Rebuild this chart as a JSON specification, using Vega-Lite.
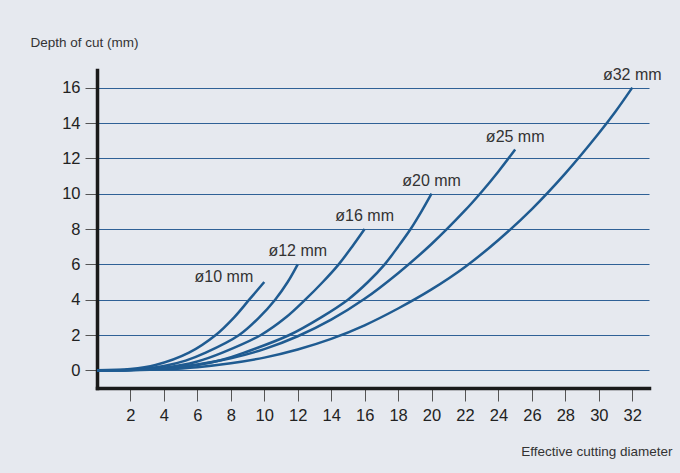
{
  "$schema": "https://vega.github.io/schema/vega-lite/v6.json",
  "width": 552,
  "height": 318,
  "autosize": {"type": "none"},
  "padding": {"left": 97, "top": 70, "right": 31, "bottom": 85},
  "background": "#e6e9ef",
  "config": {
    "font": "Liberation Sans",
    "view": {"stroke": null}
  },
  "datasets": {
    "curves": [
      {"d": "10", "x": 0, "y": 0}, {"d": "10", "x": 2, "y": 0.07}, {"d": "10", "x": 3.5, "y": 0.3}, {"d": "10", "x": 5.5, "y": 1}, {"d": "10", "x": 7.1, "y": 2}, {"d": "10", "x": 8.2, "y": 3}, {"d": "10", "x": 9.1, "y": 4}, {"d": "10", "x": 10, "y": 5},
      {"d": "12", "x": 0, "y": 0}, {"d": "12", "x": 2, "y": 0.03}, {"d": "12", "x": 4, "y": 0.25}, {"d": "12", "x": 5.3, "y": 0.55}, {"d": "12", "x": 6.5, "y": 1}, {"d": "12", "x": 8.5, "y": 2}, {"d": "12", "x": 9.7, "y": 3}, {"d": "12", "x": 10.65, "y": 4}, {"d": "12", "x": 11.4, "y": 5}, {"d": "12", "x": 12, "y": 6},
      {"d": "16", "x": 0, "y": 0}, {"d": "16", "x": 2, "y": 0.02}, {"d": "16", "x": 4, "y": 0.14}, {"d": "16", "x": 6, "y": 0.5}, {"d": "16", "x": 7.5, "y": 1}, {"d": "16", "x": 9.8, "y": 2}, {"d": "16", "x": 11.3, "y": 3}, {"d": "16", "x": 12.45, "y": 4}, {"d": "16", "x": 13.5, "y": 5}, {"d": "16", "x": 14.45, "y": 6}, {"d": "16", "x": 15.25, "y": 7}, {"d": "16", "x": 16, "y": 8},
      {"d": "20", "x": 0, "y": 0}, {"d": "20", "x": 2, "y": 0.02}, {"d": "20", "x": 4, "y": 0.1}, {"d": "20", "x": 6, "y": 0.3}, {"d": "20", "x": 7.5, "y": 0.6}, {"d": "20", "x": 8.8, "y": 1}, {"d": "20", "x": 11.5, "y": 2}, {"d": "20", "x": 13.4, "y": 3}, {"d": "20", "x": 15, "y": 4}, {"d": "20", "x": 16.2, "y": 5}, {"d": "20", "x": 17.2, "y": 6}, {"d": "20", "x": 18, "y": 7}, {"d": "20", "x": 18.75, "y": 8}, {"d": "20", "x": 19.4, "y": 9}, {"d": "20", "x": 20, "y": 10},
      {"d": "25", "x": 0, "y": 0}, {"d": "25", "x": 2, "y": 0.02}, {"d": "25", "x": 4, "y": 0.12}, {"d": "25", "x": 6, "y": 0.33}, {"d": "25", "x": 8, "y": 0.68}, {"d": "25", "x": 10, "y": 1.2}, {"d": "25", "x": 12, "y": 1.93}, {"d": "25", "x": 14, "y": 2.87}, {"d": "25", "x": 16, "y": 4.05}, {"d": "25", "x": 18, "y": 5.5}, {"d": "25", "x": 20, "y": 7.15}, {"d": "25", "x": 22, "y": 9.05}, {"d": "25", "x": 23, "y": 10.11}, {"d": "25", "x": 24, "y": 11.26}, {"d": "25", "x": 25, "y": 12.5},
      {"d": "32", "x": 0, "y": 0}, {"d": "32", "x": 2, "y": 0.01}, {"d": "32", "x": 4, "y": 0.06}, {"d": "32", "x": 6, "y": 0.18}, {"d": "32", "x": 8, "y": 0.4}, {"d": "32", "x": 10, "y": 0.72}, {"d": "32", "x": 12, "y": 1.18}, {"d": "32", "x": 14, "y": 1.78}, {"d": "32", "x": 16, "y": 2.55}, {"d": "32", "x": 18, "y": 3.5}, {"d": "32", "x": 20, "y": 4.58}, {"d": "32", "x": 22, "y": 5.85}, {"d": "32", "x": 24, "y": 7.38}, {"d": "32", "x": 26, "y": 9.13}, {"d": "32", "x": 28, "y": 11.15}, {"d": "32", "x": 30, "y": 13.42}, {"d": "32", "x": 31, "y": 14.65}, {"d": "32", "x": 32, "y": 16}
    ],
    "labels": [
      {"label": "ø10 mm", "x": 10, "y": 5},
      {"label": "ø12 mm", "x": 12, "y": 6},
      {"label": "ø16 mm", "x": 16, "y": 8},
      {"label": "ø20 mm", "x": 20, "y": 10},
      {"label": "ø25 mm", "x": 25, "y": 12.5},
      {"label": "ø32 mm", "x": 32, "y": 16}
    ]
  },
  "layer": [
    {
      "data": {"name": "curves"},
      "mark": {"type": "line", "interpolate": "catmull-rom", "strokeWidth": 2.5, "color": "#1f5b91"},
      "encoding": {
        "x": {
          "field": "x", "type": "quantitative",
          "scale": {"domain": [0, 33], "nice": false, "zero": false},
          "axis": {
            "values": [2, 4, 6, 8, 10, 12, 14, 16, 18, 20, 22, 24, 26, 28, 30, 32],
            "tickCount": 50, "format": "d",
            "grid": false, "labelOverlap": false, "labelFlush": false,
            "domainColor": "#1a1a1a", "domainWidth": 3.5, "domainCap": "square",
            "tickColor": "#555555", "tickSize": 13, "tickWidth": 1,
            "labelFontSize": 16.5, "labelColor": "#222222", "labelPadding": 6,
            "title": "Effective cutting diameter",
            "titleFontSize": 13.5, "titleFontWeight": "normal", "titleColor": "#333333",
            "titleX": 575, "titleY": 63, "titleAlign": "right", "titleBaseline": "middle"
          }
        },
        "y": {
          "field": "y", "type": "quantitative",
          "scale": {"domain": [-1, 17], "nice": false, "zero": false},
          "axis": {
            "values": [0, 2, 4, 6, 8, 10, 12, 14, 16],
            "tickCount": 50, "format": "d",
            "grid": true, "gridColor": "#2f6196", "gridWidth": 1, "gridOpacity": 1,
            "labelOverlap": false, "labelFlush": false,
            "domainColor": "#1a1a1a", "domainWidth": 3.5, "domainCap": "square",
            "tickColor": "#555555", "tickSize": 12, "tickWidth": 1,
            "labelFontSize": 16.5, "labelColor": "#222222", "labelPadding": 5,
            "title": "Depth of cut (mm)",
            "titleFontSize": 13.5, "titleFontWeight": "normal", "titleColor": "#333333",
            "titleAngle": 0, "titleX": -67, "titleY": -28, "titleAlign": "left", "titleBaseline": "middle"
          }
        },
        "detail": {"field": "d"}
      }
    },
    {
      "data": {"name": "labels"},
      "transform": [{"filter": "datum.x != 10"}],
      "mark": {"type": "text", "fontSize": 16, "color": "#333333", "align": "center", "baseline": "middle", "dy": -13},
      "encoding": {
        "x": {"field": "x", "type": "quantitative"},
        "y": {"field": "y", "type": "quantitative"},
        "text": {"field": "label"}
      }
    },
    {
      "data": {"name": "labels"},
      "transform": [{"filter": "datum.x == 10"}],
      "mark": {"type": "text", "fontSize": 16, "color": "#333333", "align": "right", "baseline": "middle", "dx": -11, "dy": -5},
      "encoding": {
        "x": {"field": "x", "type": "quantitative"},
        "y": {"field": "y", "type": "quantitative"},
        "text": {"field": "label"}
      }
    }
  ]
}
